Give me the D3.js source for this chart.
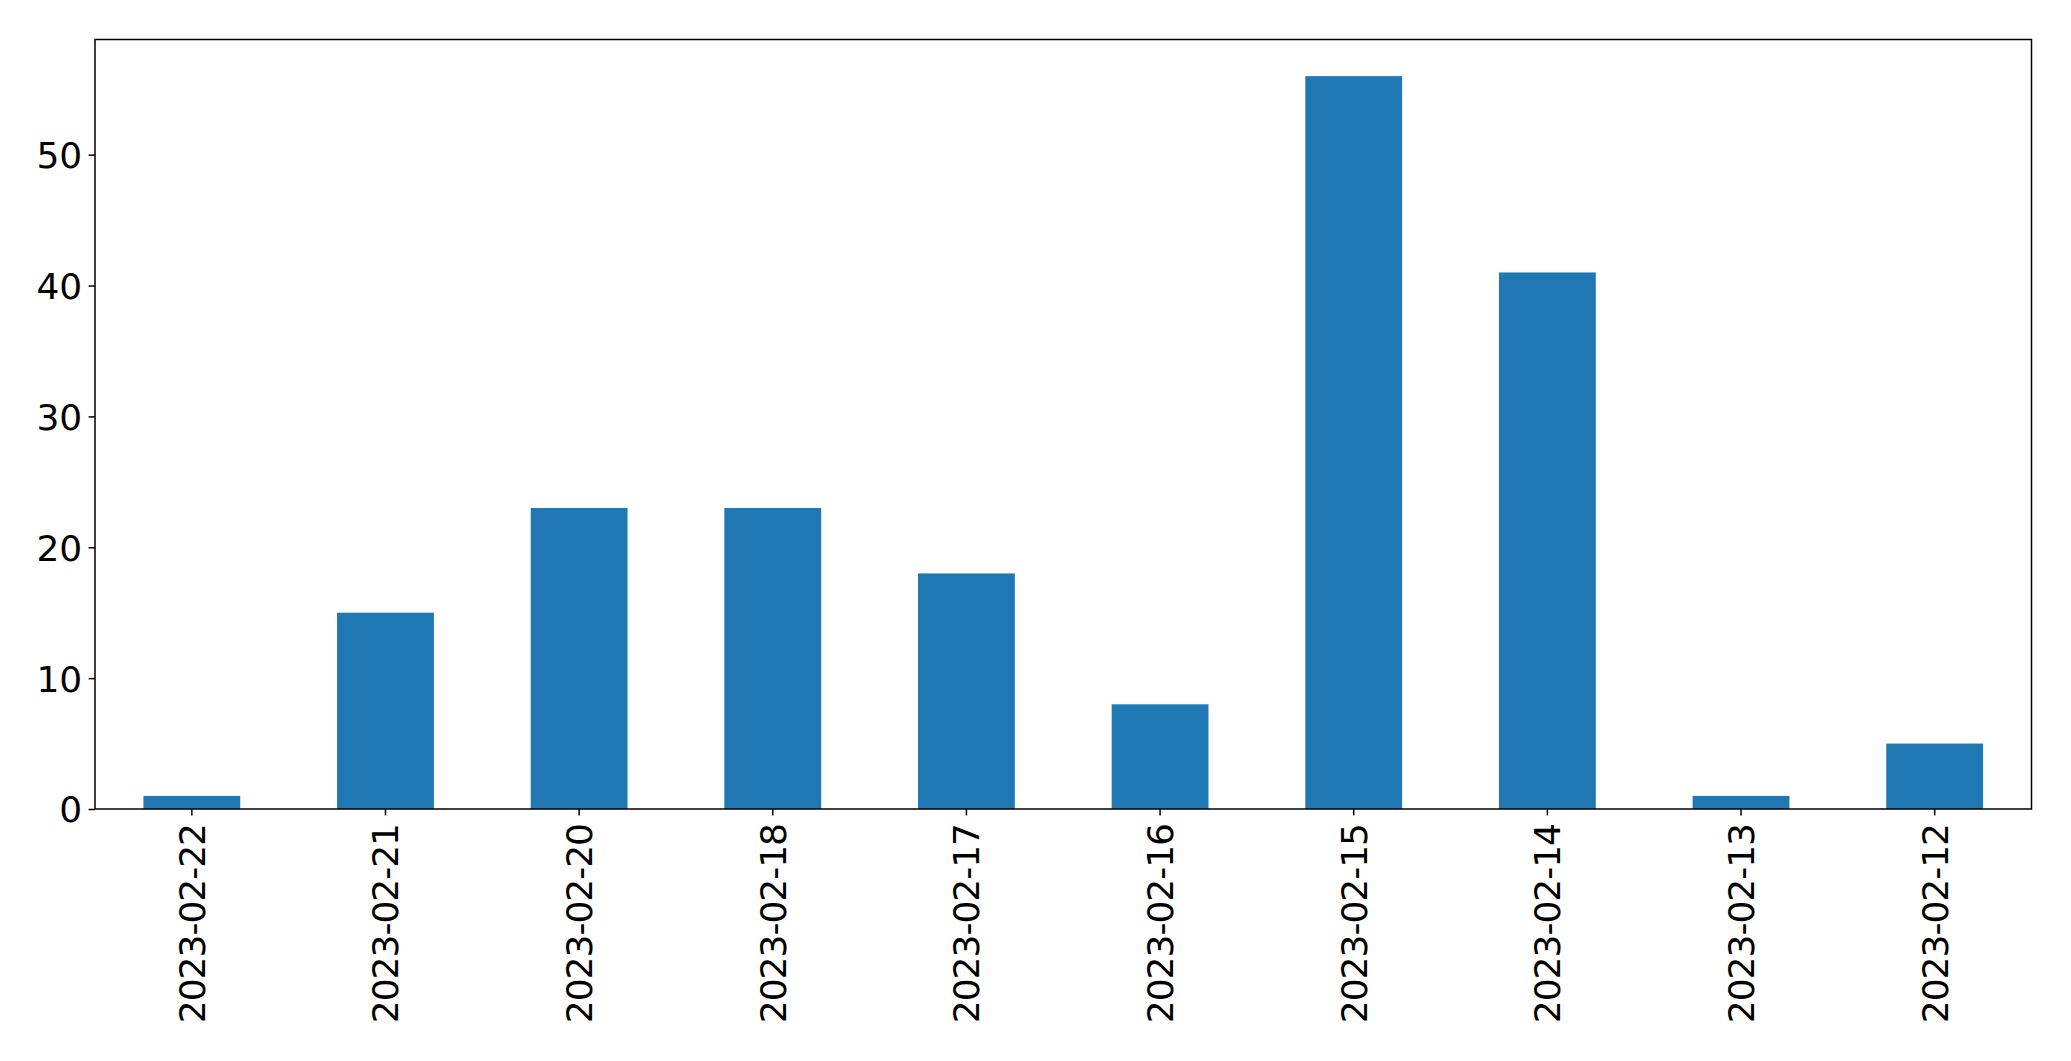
<!DOCTYPE html>
<html><head><meta charset="utf-8">
<script src="https://cdn.jsdelivr.net/npm/d3@7"></script>
<style>body{margin:0;background:#fff}svg{display:block}text{font-family:"DejaVu Sans",sans-serif;fill:#000}</style>
</head><body>
<script>
const categories = ["2023-02-22","2023-02-21","2023-02-20","2023-02-18","2023-02-17","2023-02-16","2023-02-15","2023-02-14","2023-02-13","2023-02-12"];
const values = [1,15,23,23,18,8,56,41,1,5];
const yTicks = [0,10,20,30,40,50];

const W = 2071, H = 1061;
const m = {left:95, right:2031.5, top:39.5, bottom:809};
const svg = d3.select("body").append("svg").attr("width",W).attr("height",H);
const x = d3.scaleBand().domain(categories).range([m.left,m.right]).paddingInner(0.5).paddingOuter(0.25);
const y = d3.scaleLinear().domain([0, d3.max(values)*1.05]).range([m.bottom,m.top]);

svg.selectAll("rect.bar").data(values).join("rect").attr("class","bar")
  .attr("x",(d,i)=>x(categories[i])).attr("width",x.bandwidth())
  .attr("y",d=>y(d)).attr("height",d=>y(0)-y(d)).attr("fill","#1f77b4");

const fs = 36;
const ya = svg.append("g").attr("transform",`translate(${m.left},0)`)
  .call(d3.axisLeft(y).tickValues(yTicks).tickSize(6.4).tickPadding(6.4).tickFormat(d3.format("d")));
ya.select(".domain").remove();
ya.selectAll("line").attr("stroke","#000").attr("stroke-width",1.5);
ya.selectAll("text").style("font-size",fs+"px").attr("dy","0.36em");

const xa = svg.append("g").attr("transform",`translate(0,${m.bottom})`)
  .call(d3.axisBottom(x).tickSize(6.4).tickPadding(6.4));
xa.select(".domain").remove();
xa.selectAll("line").attr("stroke","#000").attr("stroke-width",1.5);
xa.selectAll("text").style("font-size",fs+"px").style("letter-spacing","-1px")
  .attr("transform","rotate(-90)").attr("text-anchor","end")
  .attr("x",-15).attr("y",0).attr("dy","0.36em");

svg.append("rect").attr("x",m.left).attr("y",m.top).attr("width",m.right-m.left).attr("height",m.bottom-m.top)
  .attr("fill","none").attr("stroke","#000").attr("stroke-width",1.5);
</script>
</body></html>
